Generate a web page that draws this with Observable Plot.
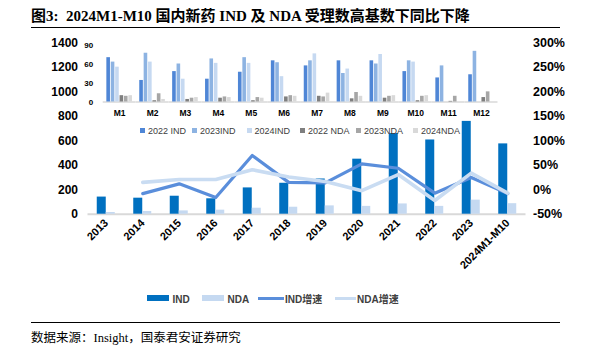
<!DOCTYPE html>
<html><head><meta charset="utf-8">
<script src="https://cdn.jsdelivr.net/npm/d3@7"></script>
<script src="https://cdn.jsdelivr.net/npm/@observablehq/plot@0.6"></script>
<style>
body{margin:0;background:#fff;}
#wrap{position:relative;width:589px;height:345px;background:#fff;overflow:hidden;font-family:"Liberation Sans","Noto Sans CJK SC",sans-serif;}
.abs{position:absolute;}
#wrap svg{position:absolute;left:0;top:0;background:transparent;overflow:visible;}
.leg{position:absolute;font-size:9px;color:#404040;white-space:nowrap;line-height:10px;}
.leg i{display:inline-block;width:5px;height:5px;margin-right:3px;vertical-align:1px;}
.mleg{position:absolute;font-size:10px;font-weight:bold;color:#404040;white-space:nowrap;line-height:12px;}
</style></head>
<body>
<div id="wrap">
  <div class="abs" style="left:31px;top:4px;font:bold 15px 'Liberation Serif','Noto Sans CJK SC',serif;color:#000;white-space:nowrap;">图3:&nbsp; 2024M1-M10 国内新药 IND 及 NDA 受理数高基数下同比下降</div>
  <div class="abs" style="left:31px;top:27px;width:529px;height:1px;background:#000;"></div>
  <div class="abs" style="left:31px;top:322px;width:529px;height:1px;background:#000;"></div>
  <div class="abs" style="left:31px;top:327px;font:12.5px 'Liberation Serif','Noto Sans CJK SC',serif;color:#000;white-space:nowrap;">数据来源：Insight，国泰君安证券研究</div>
</div>
<script>
// ---- main chart data ----
const years = ["2013","2014","2015","2016","2017","2018","2019","2020","2021","2022","2023","2024M1-M10"];
const indCounts = [140,131,147,126,215,253,288,450,660,607,759,575];
const ndaCounts = [14,22,27,33,49,57,68,64,84,64,115,86];
const indGrowth = [null,-8,12,-16,70,15,14,53,44,-7,25,-8];
const ndaGrowth = [null,15,21,21,41,26,17,-2,31,-22,34,-7];
const leftTicks = [0,200,400,600,800,1000,1200,1400];

// ---- inset (monthly) data ----
const months = ["M1","M2","M3","M4","M5","M6","M7","M8","M9","M10","M11","M12"];
const insetSeries = ["2022 IND","2023IND","2024IND","2022 NDA","2023NDA","2024NDA"];
const ind2022 = [70,34,48,36,47,65,57,65,65,48,38,43];
const ind2023 = [63,77,60,68,70,62,65,45,60,65,57,80];
const ind2024 = [55,63,36,61,61,40,76,52,75,63,null,null];
const nda2022 = [10,2,4,6,2,8,9,5,6,2,1,7];
const nda2023 = [9,13,6,8,7,10,8,15,9,9,9,16];
const nda2024 = [10,4,7,7,6,9,14,9,10,10,null,null];
const insetTicks = [0,30,60,90];

const insetColors = ["#4f86d6","#8db3e2","#c6d9f1","#7f7f7f","#a6a6a6","#d9d9d9"];
const cInd = "#0070c0", cNda = "#c5d9f1", cIndG = "#5a8edb", cNdaG = "#c9dcf2";

const rows = years.map((y,i)=>({year:y, ind:indCounts[i], nda:ndaCounts[i], indG:indGrowth[i], ndaG:ndaGrowth[i]}));
// right axis: -50%..300% maps onto 0..1400
const toLeft = p => (p + 50) * 4;

const wrap = document.getElementById("wrap");
const font = {fontSize:12, fontWeight:"bold", fill:"#000"};

const main = Plot.plot({
  width:589, height:345,
  marginTop:42.5, marginBottom:131.3, marginLeft:87.5, marginRight:63.5,
  style:{fontFamily:"'Liberation Sans',sans-serif", background:"transparent", color:"#000"},
  x:{type:"band", domain:years, padding:0, round:false},
  y:{domain:[0,1400]},
  marks:[
    Plot.ruleY([0], {stroke:"#d9d9d9", strokeWidth:2}),
    Plot.barY(rows, {x:"year", y:"ind", fill:cInd, insetLeft:9.25, insetRight:18.25}),
    Plot.barY(rows, {x:"year", y:"nda", fill:cNda, insetLeft:18.25, insetRight:9.25}),
    Plot.line(rows.filter(d=>d.indG!=null), {x:"year", y:d=>toLeft(d.indG), stroke:cIndG, strokeWidth:3.2}),
    Plot.line(rows.filter(d=>d.ndaG!=null), {x:"year", y:d=>toLeft(d.ndaG), stroke:cNdaG, strokeWidth:3.6}),
    Plot.axisY({anchor:"left", ticks:leftTicks, tickSize:0, tickPadding:10, label:null, tickFormat:d=>String(d), ...font}),
    Plot.axisY({anchor:"right", ticks:leftTicks, tickSize:0, tickPadding:7, label:null, tickFormat:d=>(d/4-50)+"%", ...font, fontSize:12.5}),
    Plot.axisX({tickRotate:-45, tickSize:0, tickPadding:7, label:null, fontSize:11, fontWeight:"bold", fill:"#000"})
  ]
});
wrap.appendChild(main);

const insetRows = [];
const insetVals = [ind2022, ind2023, ind2024, nda2022, nda2023, nda2024];
months.forEach((m,i)=>insetSeries.forEach((s,j)=>{
  const v = insetVals[j][i];
  if (v!=null) insetRows.push({month:m, series:s, value:v});
}));

const inset = Plot.plot({
  width:589, height:140,
  marginTop:44.5, marginBottom:38.5, marginLeft:102.7, marginRight:91.5,
  style:{fontFamily:"'Liberation Sans',sans-serif", background:"transparent", color:"#000"},
  fx:{domain:months, padding:0, round:false, label:null, axis:null},
  x:{domain:insetSeries, paddingInner:0.18, paddingOuter:0.83, round:false, axis:null},
  y:{domain:[0,90]},
  color:{domain:insetSeries, range:insetColors},
  marks:[
    Plot.ruleY([0], {stroke:"#d9d9d9", strokeWidth:1.5}),
    Plot.barY(insetRows, {fx:"month", x:"series", y:"value", fill:"series"}),
    Plot.axisY({ticks:insetTicks, tickSize:0, tickPadding:10, label:null, fontSize:8, fontWeight:"bold", fill:"#000"}),
    Plot.axisFx({anchor:"bottom", tickSize:0, tickPadding:8, label:null, fontSize:8.5, fontWeight:"bold", fill:"#000"})
  ]
});
wrap.appendChild(inset);

// inset legend
const insetLegLeft = [140,192,246.5,300,356,413];
insetSeries.forEach((s,j)=>{
  const d = document.createElement("div");
  d.className = "leg";
  d.style.left = insetLegLeft[j]+"px";
  d.style.top = "126px";
  d.innerHTML = `<i style="background:${insetColors[j]}"></i>${s}`;
  wrap.appendChild(d);
});

// main legend
const mainLeg = [
  {label:"IND", color:cInd, kind:"bar", left:146.5},
  {label:"NDA", color:cNda, kind:"bar", left:201.5},
  {label:"IND增速", color:cIndG, kind:"line", left:258},
  {label:"NDA增速", color:cNdaG, kind:"line", left:335}
];
mainLeg.forEach(l=>{
  const d = document.createElement("div");
  d.className = "mleg";
  d.style.left = l.left+"px";
  d.style.top = "294px";
  const w = l.kind==="bar" ? 22 : (l.label.startsWith("IND") ? 26 : 21);
  const h = l.kind==="bar" ? 6 : 3;
  const gap = l.kind==="bar" ? 4 : 1;
  d.innerHTML = `<span style="display:inline-block;width:${w}px;height:${h}px;background:${l.color};vertical-align:${l.kind==="bar"?2:3}px;margin-right:${gap}px"></span>${l.label}`;
  wrap.appendChild(d);
});
</script>
</body></html>
